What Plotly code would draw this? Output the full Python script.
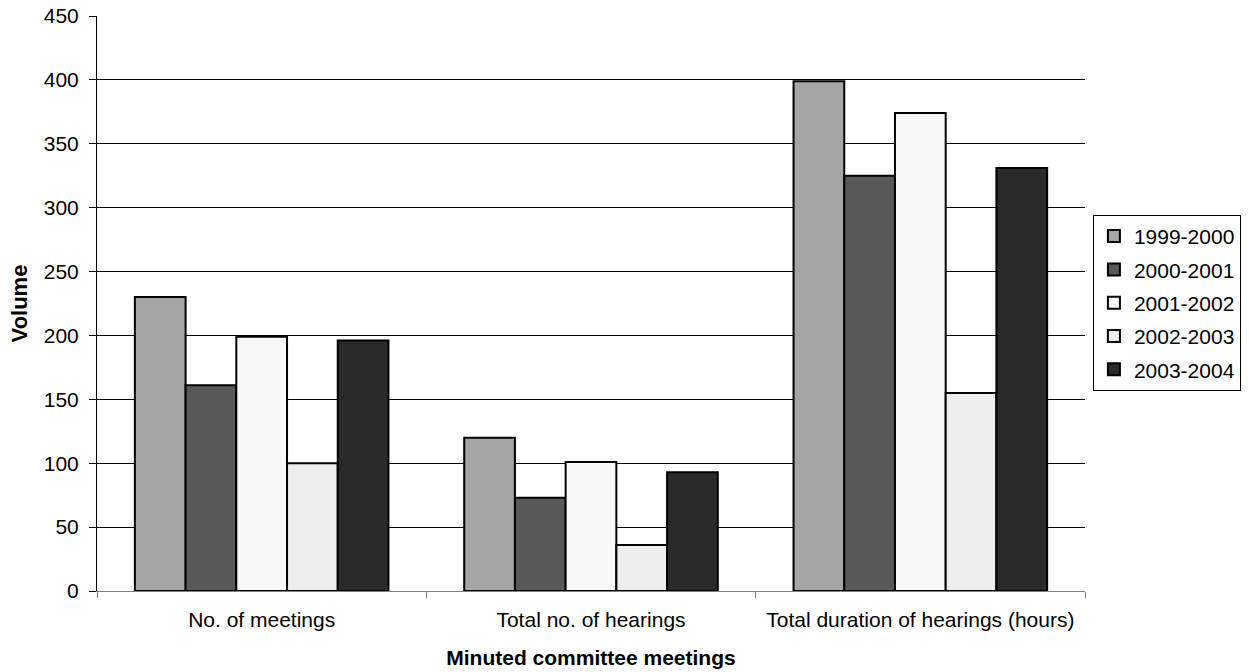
import plotly.graph_objects as go

categories = ["No. of meetings", "Total no. of hearings", "Total duration of hearings (hours)"]
series_names = ["1999-2000", "2000-2001", "2001-2002", "2002-2003", "2003-2004"]
v_1999_2000 = [230, 120, 399]
v_2000_2001 = [161, 73, 325]
v_2001_2002 = [199, 101, 374]
v_2002_2003 = [100, 36, 155]
v_2003_2004 = [196, 93, 331]
y_ticks = [0, 50, 100, 150, 200, 250, 300, 350, 400, 450]

values = [v_1999_2000, v_2000_2001, v_2001_2002, v_2002_2003, v_2003_2004]
colors = ["#A6A6A6", "#595959", "#F8F8F8", "#EEEEEE", "#2A2A2A"]

fig = go.Figure()
for name, vals, c in zip(series_names, values, colors):
    fig.add_trace(go.Bar(
        x=categories, y=vals, name=name, legendgroup=name,
        marker=dict(color=c, line=dict(color="#000000", width=2)),
    ))

font = "Liberation Sans, Arial, sans-serif"
fig.update_layout(
    width=1249, height=672,
    barmode="group", bargap=0.23, bargroupgap=0,
    plot_bgcolor="white", paper_bgcolor="white",
    margin=dict(l=97, r=164, t=16, b=81, autoexpand=False),
    font=dict(family=font, size=21, color="#000000"),
    legend=dict(
        x=1.008, xanchor="left", y=0.654, yanchor="top",
        bordercolor="#000000", borderwidth=1,
        font=dict(size=21), tracegroupgap=3, itemsizing="constant",
    ),
    xaxis=dict(
        title=dict(text="<b>Minuted committee meetings</b>", font=dict(size=21), standoff=20),
        showline=True, linecolor="#808080", linewidth=1,
        ticks="outside", tickson="boundaries", ticklen=6, tickcolor="#808080",
        ticklabelstandoff=10,
        tickfont=dict(size=21),
        showgrid=False,
    ),
    yaxis=dict(
        title=dict(text="<b>Volume</b>", font=dict(size=22), standoff=10),
        range=[0, 450], tickvals=y_ticks,
        showline=True, linecolor="#000000", linewidth=1,
        ticks="outside", ticklen=7, tickcolor="#000000",
        ticklabelstandoff=6, ticklabeloverflow="allow",
        tickfont=dict(size=21),
        showgrid=True, gridcolor="#000000", gridwidth=1,
        zeroline=False,
    ),
)

fig.write_html(
    "out.html",
    config={"displayModeBar": False},
    post_script="document.body.style.margin='0';document.body.style.overflow='hidden';",
)
